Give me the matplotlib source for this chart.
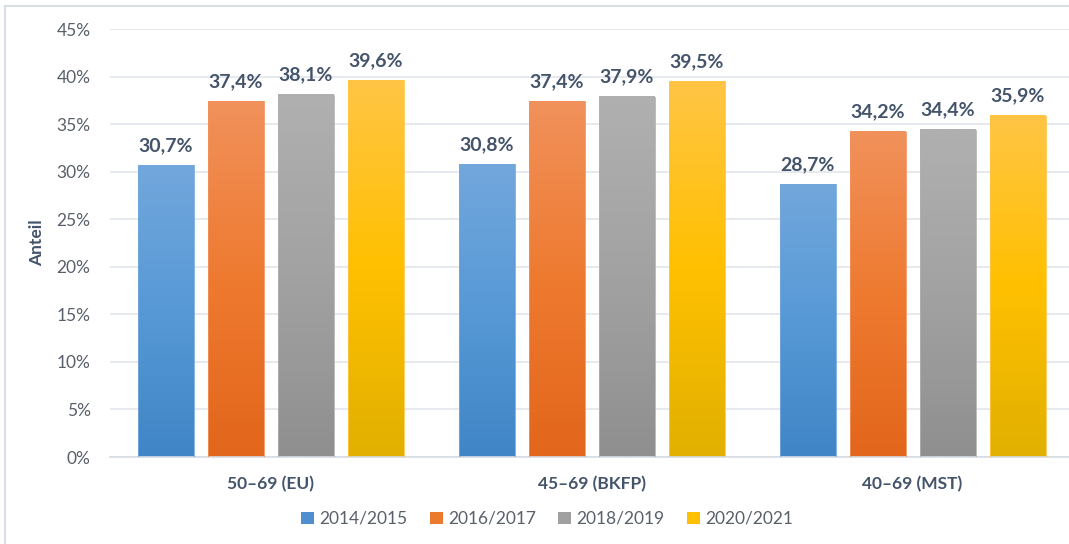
import numpy as np
import matplotlib as mpl
import matplotlib.pyplot as plt
from matplotlib.colors import LinearSegmentedColormap
from matplotlib.patches import Patch, Rectangle

# ── data ──────────────────────────────────────────────────────────────────────
categories = ["50–69 (EU)", "45–69 (BKFP)", "40–69 (MST)"]
series     = ["2014/2015", "2016/2017", "2018/2019", "2020/2021"]
v_2014 = [30.7, 30.8, 28.7]
v_2016 = [37.4, 37.4, 34.2]
v_2018 = [38.1, 37.9, 34.4]
v_2020 = [39.6, 39.5, 35.9]
values = [v_2014, v_2016, v_2018, v_2020]
yticks = [0, 5, 10, 15, 20, 25, 30, 35, 40, 45]

# gradient stops (top, middle, bottom) per series
GRADS = [
    ("#72A7DC", "#5799D6", "#4085C6"),
    ("#F1915B", "#EE7A30", "#E2661B"),
    ("#B0B0B0", "#A2A2A2", "#8F8F8F"),
    ("#FFC545", "#FFC000", "#E1B000"),
]
LEG_CLR = ["#4F8FD0", "#EC7A2E", "#A0A0A0", "#FFC000"]

TXT   = "#44546A"
TICK  = "#59606B"
GRID  = "#E1E5EA"

mpl.rcParams["font.family"] = ["Lato", "DejaVu Sans"]

fig = plt.figure(figsize=(10.69, 5.44), dpi=100)
ax = fig.add_axes([110 / 1069, 87 / 544, 963 / 1069, 428 / 544])

n = len(series)
pitch = 70 / 321
width = 56 / 321
x = np.arange(len(categories))

for i, (vals, grad) in enumerate(zip(values, GRADS)):
    cmap = LinearSegmentedColormap.from_list(f"g{i}", [grad[2], grad[1], grad[0]])
    img = np.linspace(0, 1, 256).reshape(-1, 1)
    for j, v in enumerate(vals):
        xc = x[j] + (i - (n - 1) / 2) * pitch
        x0, x1 = xc - width / 2, xc + width / 2
        ax.imshow(img, extent=[x0, x1, 0, v], origin="lower", aspect="auto",
                  cmap=cmap, zorder=2, interpolation="bilinear")
        ax.add_patch(Rectangle((x0, 0), width, v, fill=False,
                               ec=grad[0], lw=0.6, zorder=3))
        ax.annotate(f"{v:.1f}%".replace(".", ","), (xc, v),
                    xytext=(0, 8), textcoords="offset points",
                    ha="center", va="bottom", fontsize=14,
                    fontweight="bold", color=TXT)

ax.set_xlim(-0.5, 2.5)
ax.set_ylim(0, 45)
ax.set_yticks(yticks)
ax.set_yticklabels([f"{t}%" for t in yticks])
ax.set_xticks(x)
ax.set_xticklabels(categories, fontweight="bold", fontsize=12.5, color=TXT)
ax.tick_params(axis="y", length=0, pad=14, labelsize=12.5, labelcolor=TICK)
ax.tick_params(axis="x", length=0, pad=14)
ax.grid(axis="y", color=GRID, lw=1.2, zorder=0)
ax.set_axisbelow(True)
for s in ["top", "right", "left"]:
    ax.spines[s].set_visible(False)
ax.spines["bottom"].set_color("#D6DCE4")
ax.spines["bottom"].set_linewidth(1.2)

ax.set_ylabel("Anteil", fontweight="bold", fontsize=12.5, color=TXT, labelpad=8)

handles = [Patch(facecolor=c, edgecolor="none") for c in LEG_CLR]
fig.legend(handles, series, loc="center", bbox_to_anchor=(547 / 1069, 1 - 519 / 544),
           ncol=4, frameon=False, fontsize=12.5, labelcolor=TICK,
           handlelength=0.75, handleheight=0.75, handletextpad=0.3,
           columnspacing=1.3)

# chart border (cropped at right and bottom)
fig.add_artist(plt.Line2D([5 / 1069, 5 / 1069], [0, 1 - 6 / 544],
                          color="#D9DEE6", lw=1.5, transform=fig.transFigure))
fig.add_artist(plt.Line2D([5 / 1069, 1], [1 - 6 / 544, 1 - 6 / 544],
                          color="#D9DEE6", lw=1.5, transform=fig.transFigure))

fig.savefig("out.png", dpi=100)
